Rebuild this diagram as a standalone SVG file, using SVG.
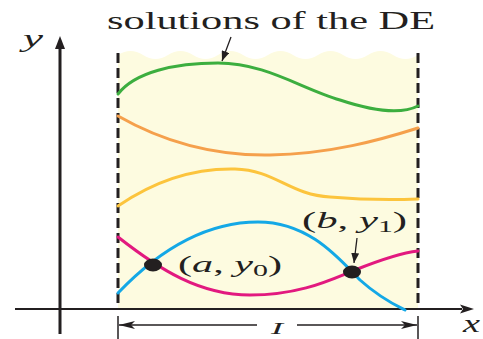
<svg xmlns="http://www.w3.org/2000/svg" width="483" height="339" viewBox="0 0 483 339">
<style>
.curve{fill:none;stroke-width:3;stroke-linecap:round}
.lbl{font-family:"Liberation Serif","Times New Roman",serif;fill:#231f20}
.it{font-style:italic}
.ax{stroke:#231f20;fill:none}
.dash{stroke:#231f20;stroke-width:3;stroke-dasharray:10 5;fill:none}
.ptr{stroke:#231f20;stroke-width:1.3;fill:none}
</style>
<defs>
<marker id="ah" viewBox="0 0 10 8" refX="10" refY="4" markerWidth="10" markerHeight="8" markerUnits="userSpaceOnUse" orient="auto">
<path d="M0,0 L10,4 L0,8 Z" fill="#231f20"/>
</marker>
<marker id="dim" viewBox="0 0 16 8" refX="16" refY="4" markerWidth="16" markerHeight="8" markerUnits="userSpaceOnUse" orient="auto">
<path d="M0,0 L16,4 L0,8 L4,4 Z" fill="#231f20"/>
</marker>
</defs>
<rect width="483" height="339" fill="#ffffff"/>
<g id="region">
<path d="M118,310 L118,55 Q130.5,47 143,55 T168,55 T193,55 T218,55 T243,55 T268,55 T293,55 T318,55 T343,55 T368,55 T393,55 T418,55 L418,310 Z" fill="#fdfbe0"/>
</g>
<g id="axes">
<line class="ax" x1="15" y1="309" x2="462" y2="309" stroke-width="2"/>
<path d="M474,309 L460,304.5 L463,309 L460,313.5 Z" fill="#231f20"/>
<line class="ax" x1="60" y1="334" x2="60" y2="48" stroke-width="3"/>
<path d="M60,36 L55,49 L65,49 Z" fill="#231f20"/>
<text class="lbl it" x="23" y="47" font-size="26" textLength="20" lengthAdjust="spacingAndGlyphs">y</text>
<text class="lbl it" x="463" y="332" font-size="26" textLength="17" lengthAdjust="spacingAndGlyphs">x</text>
</g>
<g id="interval">
<line class="dash" x1="118" y1="53" x2="118" y2="310"/>
<line class="dash" x1="418" y1="53" x2="418" y2="310"/>
<line class="ax" x1="118" y1="316" x2="118" y2="339" stroke-width="1.5"/>
<line class="ax" x1="418" y1="316" x2="418" y2="339" stroke-width="1.5"/>
<line class="ax" x1="257" y1="325" x2="119" y2="325" stroke-width="1.3" marker-end="url(#dim)"/>
<line class="ax" x1="297" y1="325" x2="417" y2="325" stroke-width="1.3" marker-end="url(#dim)"/>
<text class="lbl it" x="271" y="334" font-size="16" textLength="12" lengthAdjust="spacingAndGlyphs">I</text>
</g>
<g id="sol-green"><path class="curve" stroke="#3cae3f" d="M118,94 C135,72 175,63 218,63 C265,63 300,88 340,100 C370,110 400,115 418,106"/></g>
<g id="sol-orange"><path class="curve" stroke="#f5a04c" d="M118,116 C160,140 210,156 270,155 C330,154 380,140 418,128"/></g>
<g id="sol-yellow"><path class="curve" stroke="#fcc43d" d="M118,206 C150,184 190,168 235,169 C275,170 290,195 330,197 C365,200 395,200 418,199"/></g>
<g id="sol-blue"><path class="curve" stroke="#14a8e6" d="M118,293 C140,270 190,222 258,222 C310,222 340,260 360,280 C380,298 395,305 405,310"/></g>
<g id="sol-magenta"><path class="curve" stroke="#e2197f" d="M118,237 C160,270 200,295 250,295 C300,295 330,280 355,270 C380,260 400,253 418,251"/></g>
<g id="point-a">
<ellipse cx="153" cy="265" rx="9" ry="6.5" fill="#231f20"/>
<text class="lbl" x="178" y="272" font-size="24" textLength="104" lengthAdjust="spacingAndGlyphs">(<tspan class="it">a</tspan>, <tspan class="it">y</tspan><tspan font-size="17" dy="4">0</tspan><tspan dy="-4">)</tspan></text>
</g>
<g id="point-b">
<ellipse cx="352" cy="272" rx="9" ry="6.5" fill="#231f20"/>
<text class="lbl" x="302" y="228" font-size="23" textLength="105" lengthAdjust="spacingAndGlyphs">(<tspan class="it">b</tspan>, <tspan class="it">y</tspan><tspan font-size="16" dy="4">1</tspan><tspan dy="-4">)</tspan></text>
</g>
<g id="title">
<text class="lbl" x="107" y="29" font-size="25" textLength="328" lengthAdjust="spacingAndGlyphs">solutions of the DE</text>
</g>
<g id="connectors">
<line class="ptr" x1="231" y1="37" x2="222" y2="61" marker-end="url(#ah)"/>
<line class="ptr" x1="357" y1="238" x2="354" y2="263" marker-end="url(#ah)"/>
</g>
</svg>
